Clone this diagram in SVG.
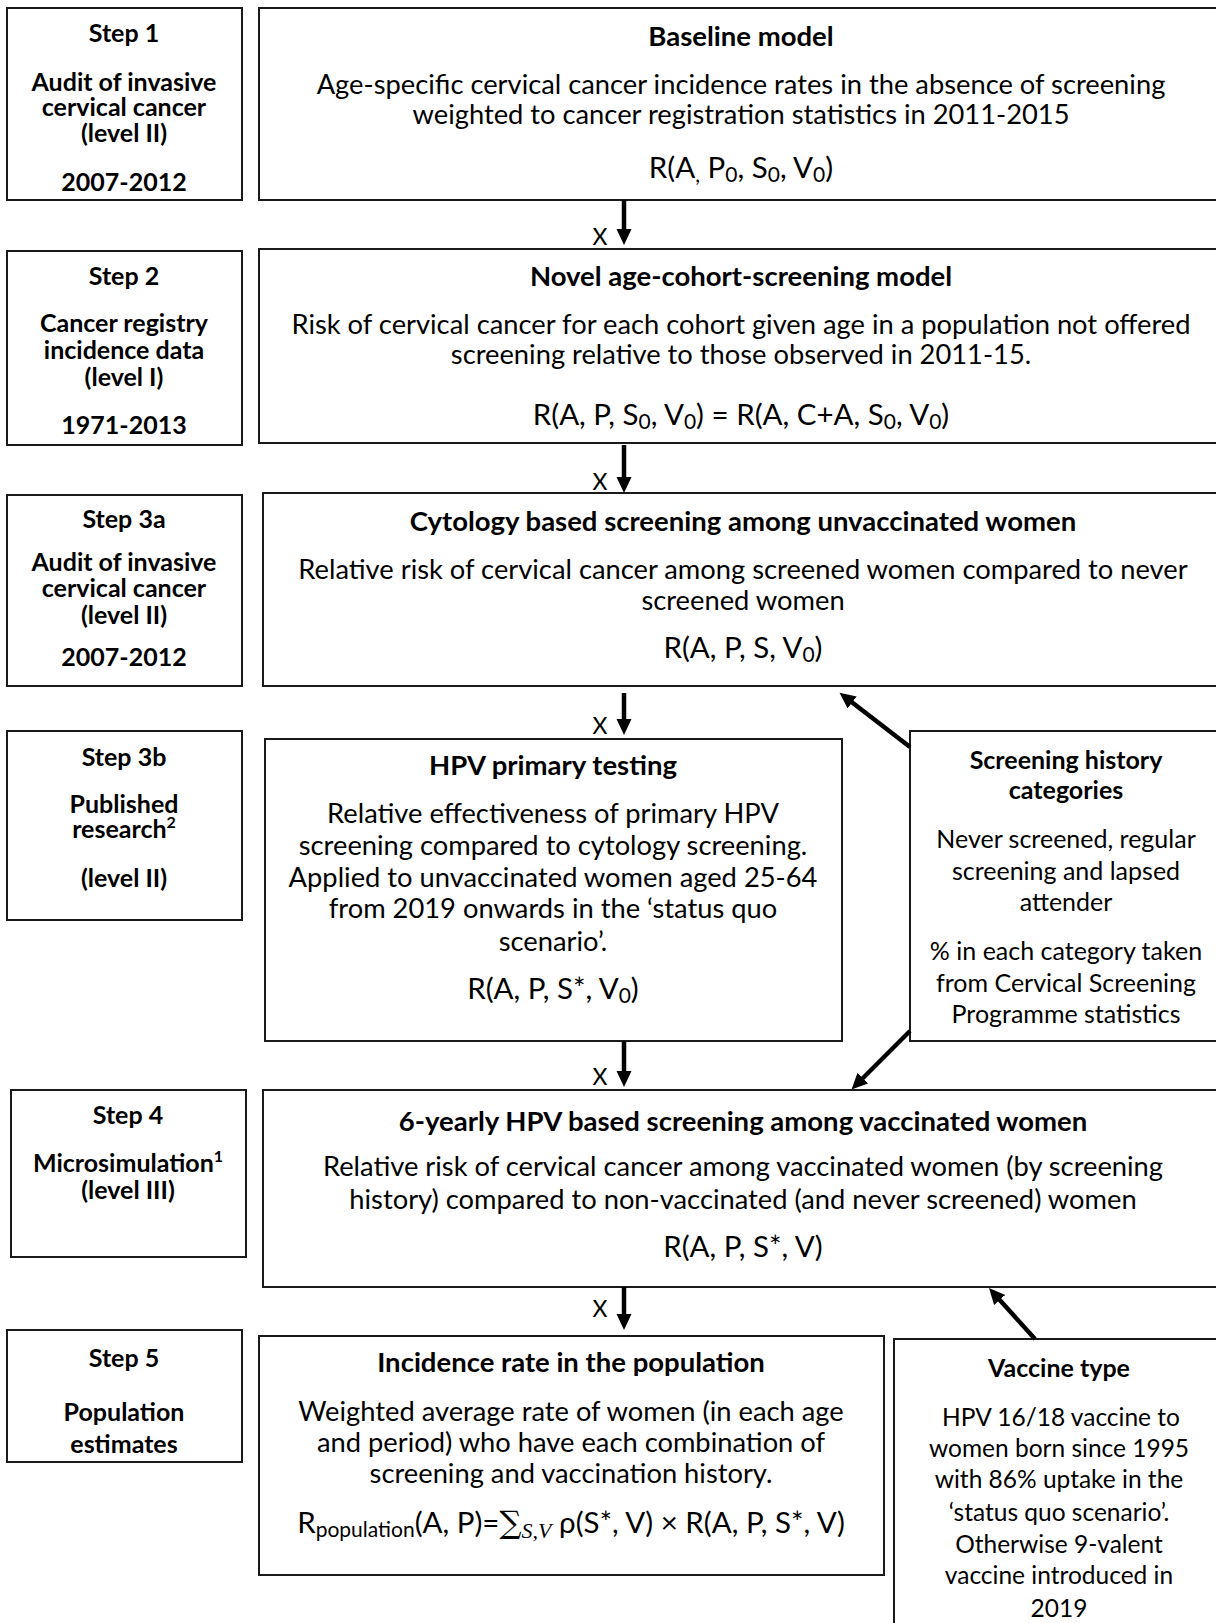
<svg xmlns="http://www.w3.org/2000/svg" width="1216" height="1623" viewBox="0 0 1216 1623">
<defs>
<style>
text{font-family:Lato,"Open Sans","Liberation Sans",sans-serif;fill:#000;text-anchor:middle}
.lab{font-size:25px;font-weight:bold}
.ttl{font-size:27.5px;font-weight:bold}
.bd{font-size:27.3px}
.fm{font-size:29.5px}
.sh{font-size:25px}
.vc{font-size:24.5px}
.sb{font-size:21px}
.sp{font-size:16px}
.box{fill:#fff;stroke:#1a1a1a;stroke-width:2}
.arr{stroke:#000;stroke-width:4.5;fill:none;marker-end:url(#ah)}
.x{font-size:23px}
</style>
<marker id="ah" markerUnits="userSpaceOnUse" markerWidth="18" markerHeight="18" refX="4" refY="7.5" orient="auto">
<path d="M0,0 L16,7.5 L0,15 z" fill="#000"/>
</marker>
</defs>
<rect width="1216" height="1623" fill="#fff"/>

<g id="step1">
<rect class="box" x="7" y="8" width="235" height="192"/>
<text class="lab" x="124" y="42">Step 1</text>
<text class="lab" x="124" y="91">Audit of invasive</text>
<text class="lab" x="124" y="116">cervical cancer</text>
<text class="lab" x="124" y="142">(level II)</text>
<text class="lab" x="124" y="191">2007-2012</text>
</g>

<g id="baseline">
<rect class="box" x="259" y="8" width="962" height="192"/>
<text class="ttl" x="741" y="46">Baseline model</text>
<text class="bd" x="741" y="94">Age-specific cervical cancer incidence rates in the absence of screening</text>
<text class="bd" x="741" y="124">weighted to cancer registration statistics in 2011-2015</text>
<text class="fm" x="741" y="178">R(A<tspan class="sb" dy="4">,</tspan><tspan dy="-4"> P</tspan><tspan class="sb" dy="4">0</tspan><tspan dy="-4">, S</tspan><tspan class="sb" dy="4">0</tspan><tspan dy="-4">, V</tspan><tspan class="sb" dy="4">0</tspan><tspan dy="-4">)</tspan></text>
</g>

<g id="step2">
<rect class="box" x="7" y="251" width="235" height="194"/>
<text class="lab" x="124" y="285">Step 2</text>
<text class="lab" x="124" y="332">Cancer registry</text>
<text class="lab" x="124" y="359">incidence data</text>
<text class="lab" x="124" y="386">(level I)</text>
<text class="lab" x="124" y="434">1971-2013</text>
</g>

<g id="novel">
<rect class="box" x="259" y="249" width="962" height="194"/>
<text class="ttl" x="741" y="286">Novel age-cohort-screening model</text>
<text class="bd" x="741" y="334">Risk of cervical cancer for each cohort given age in a population not offered</text>
<text class="bd" x="741" y="364">screening relative to those observed in 2011-15.</text>
<text class="fm" x="741" y="425">R(A, P, S<tspan class="sb" dy="4">0</tspan><tspan dy="-4">, V</tspan><tspan class="sb" dy="4">0</tspan><tspan dy="-4">) = R(A, C+A, S</tspan><tspan class="sb" dy="4">0</tspan><tspan dy="-4">, V</tspan><tspan class="sb" dy="4">0</tspan><tspan dy="-4">)</tspan></text>
</g>

<g id="step3a">
<rect class="box" x="7" y="495" width="235" height="191"/>
<text class="lab" x="124" y="528">Step 3a</text>
<text class="lab" x="124" y="571">Audit of invasive</text>
<text class="lab" x="124" y="597">cervical cancer</text>
<text class="lab" x="124" y="624">(level II)</text>
<text class="lab" x="124" y="666">2007-2012</text>
</g>

<g id="cytology">
<rect class="box" x="263" y="493" width="958" height="193"/>
<text class="ttl" x="743" y="531">Cytology based screening among unvaccinated women</text>
<text class="bd" x="743" y="579">Relative risk of cervical cancer among screened women compared to never</text>
<text class="bd" x="743" y="610">screened women</text>
<text class="fm" x="743" y="658">R(A, P, S, V<tspan class="sb" dy="4">0</tspan><tspan dy="-4">)</tspan></text>
</g>

<g id="step3b">
<rect class="box" x="7" y="731" width="235" height="189"/>
<text class="lab" x="124" y="766">Step 3b</text>
<text class="lab" x="124" y="813">Published</text>
<text class="lab" x="124" y="838">research<tspan class="sp" dy="-10">2</tspan></text>
<text class="lab" x="124" y="887">(level II)</text>
</g>

<g id="hpv">
<rect class="box" x="265" y="739" width="577" height="302"/>
<text class="ttl" x="553" y="775">HPV primary testing</text>
<text class="bd" x="553" y="823">Relative effectiveness of primary HPV</text>
<text class="bd" x="553" y="855">screening compared to cytology screening.</text>
<text class="bd" x="553" y="887">Applied to unvaccinated women aged 25-64</text>
<text class="bd" x="553" y="918">from 2019 onwards in the ‘status quo</text>
<text class="bd" x="553" y="951">scenario’.</text>
<text class="fm" x="553" y="999">R(A, P, S*, V<tspan class="sb" dy="4">0</tspan><tspan dy="-4">)</tspan></text>
</g>

<g id="history">
<rect class="box" x="910" y="731" width="311" height="310"/>
<text class="lab" x="1066" y="769">Screening history</text>
<text class="lab" x="1066" y="799">categories</text>
<text class="sh" x="1066" y="848">Never screened, regular</text>
<text class="sh" x="1066" y="880">screening and lapsed</text>
<text class="sh" x="1066" y="911">attender</text>
<text class="sh" x="1066" y="960">% in each category taken</text>
<text class="sh" x="1066" y="992">from Cervical Screening</text>
<text class="sh" x="1066" y="1023">Programme statistics</text>
</g>

<g id="step4">
<rect class="box" x="11" y="1090" width="235" height="167"/>
<text class="lab" x="128" y="1124">Step 4</text>
<text class="lab" x="128" y="1172">Microsimulation<tspan class="sp" dy="-10">1</tspan></text>
<text class="lab" x="128" y="1199">(level III)</text>
</g>

<g id="sixyearly">
<rect class="box" x="263" y="1090" width="958" height="197"/>
<text class="ttl" x="743" y="1131">6-yearly HPV based screening among vaccinated women</text>
<text class="bd" x="743" y="1176">Relative risk of cervical cancer among vaccinated women (by screening</text>
<text class="bd" x="743" y="1209">history) compared to non-vaccinated (and never screened) women</text>
<text class="fm" x="743" y="1257">R(A, P, S*, V)</text>
</g>

<g id="step5">
<rect class="box" x="7" y="1330" width="235" height="132"/>
<text class="lab" x="124" y="1367">Step 5</text>
<text class="lab" x="124" y="1421">Population</text>
<text class="lab" x="124" y="1453">estimates</text>
</g>

<g id="incidence">
<rect class="box" x="259" y="1336" width="625" height="239"/>
<text class="ttl" x="571" y="1372">Incidence rate in the population</text>
<text class="bd" x="571" y="1421">Weighted average rate of women (in each age</text>
<text class="bd" x="571" y="1452">and period) who have each combination of</text>
<text class="bd" x="571" y="1483">screening and vaccination history.</text>
<text class="fm" x="571" y="1533">R<tspan class="sb" dy="4">population</tspan><tspan dy="-4">(A, P)=</tspan><tspan font-family="'DejaVu Serif',serif" font-size="31">∑</tspan><tspan font-family="'Liberation Serif',serif" font-style="italic" font-size="22" dy="5">S,V</tspan><tspan dy="-5"> ρ(S*, V) × R(A, P, S*, V)</tspan></text>
</g>

<g id="vaccine">
<rect class="box" x="894" y="1339" width="327" height="290"/>
<text class="lab" x="1059" y="1377">Vaccine type</text>
<text class="vc" x="1061" y="1426">HPV 16/18 vaccine to</text>
<text class="vc" x="1059" y="1457">women born since 1995</text>
<text class="vc" x="1059" y="1488">with 86% uptake in the</text>
<text class="vc" x="1059" y="1521">‘status quo scenario’.</text>
<text class="vc" x="1059" y="1553">Otherwise 9-valent</text>
<text class="vc" x="1059" y="1584">vaccine introduced in</text>
<text class="vc" x="1059" y="1617">2019</text>
</g>

<g id="connectors">
<line class="arr" x1="624" y1="200" x2="624" y2="233"/>
<text class="x" x="600" y="245">X</text>
<line class="arr" x1="624" y1="445" x2="624" y2="481"/>
<text class="x" x="600" y="490">X</text>
<line class="arr" x1="624" y1="693" x2="624" y2="723"/>
<text class="x" x="600" y="734">X</text>
<line class="arr" x1="624" y1="1041" x2="624" y2="1075"/>
<text class="x" x="600" y="1085">X</text>
<line class="arr" x1="624" y1="1287" x2="624" y2="1318"/>
<text class="x" x="600" y="1317">X</text>
<line class="arr" x1="910" y1="747" x2="849" y2="700"/>
<line class="arr" x1="910" y1="1031" x2="860" y2="1081"/>
<line class="arr" x1="1035" y1="1339" x2="997" y2="1297"/>
</g>
</svg>
